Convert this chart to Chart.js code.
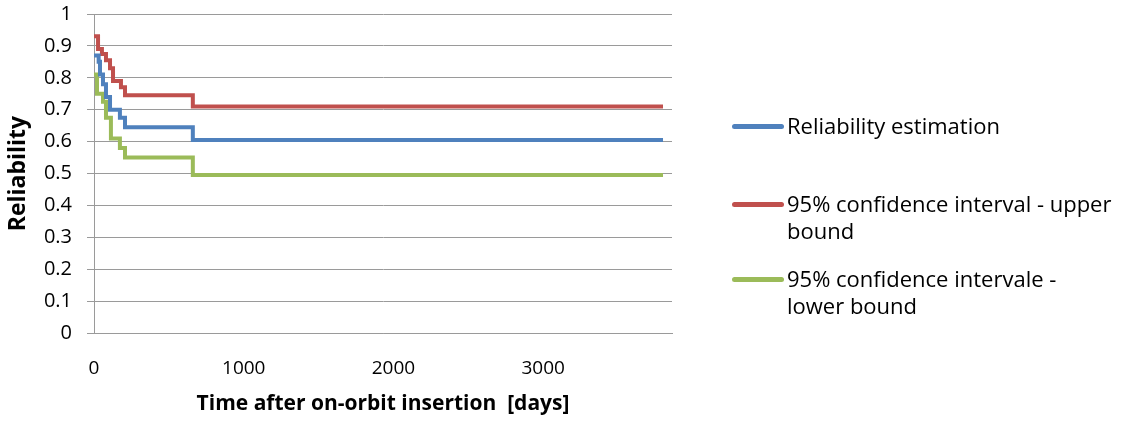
<!DOCTYPE html>
<html>
<head>
<meta charset="utf-8">
<script src="https://cdn.jsdelivr.net/npm/chart.js@4/dist/chart.umd.min.js"></script>
<style>
  body { margin: 0; background: #fff; }
  #wrap { position: relative; width: 1125px; height: 421px; }
  #legend { position: absolute; left: 732px; top: 0; font-family: "Open Sans", sans-serif; font-size: 22px; color: #000; }
  .item { position: absolute; left: 0; white-space: nowrap; line-height: 27px; }
  .swatch { position: absolute; left: 0; width: 52px; height: 5px; border-radius: 2.5px; }
  .txt { position: absolute; left: 55px; }
</style>
</head>
<body>
<div id="wrap">
  <canvas id="myChart" width="1125" height="421"></canvas>
  <div id="legend"></div>
</div>
<script>
// days after insertion where each estimate changes, and the value from that day on
let estDays = [0, 31, 40, 60, 80, 107, 173, 207, 660, 3800];
let estValues = [0.87, 0.85, 0.81, 0.78, 0.74, 0.70, 0.675, 0.645, 0.605, 0.605];

let upperDays = [0, 27, 53, 80, 107, 127, 180, 207, 660, 3800];
let upperValues = [0.93, 0.89, 0.875, 0.855, 0.83, 0.79, 0.77, 0.745, 0.71, 0.71];

let lowerDays = [0, 20, 60, 80, 113, 173, 207, 660, 3800];
let lowerValues = [0.81, 0.75, 0.725, 0.675, 0.61, 0.58, 0.55, 0.495, 0.495];

let seriesNames = [
  "Reliability estimation",
  "95% confidence interval - upper\nbound",
  "95% confidence intervale -\nlower bound"
];
let colors = ["#4F81BD", "#C0504D", "#9BBB59"];
let xTicks = [0, 1000, 2000, 3000];

function toPoints(days, values) {
  return days.map((d, i) => ({ x: d, y: values[i] }));
}

let font = "'Open Sans', sans-serif";
let grey = "#9a9a9a";

let chart = new Chart(document.getElementById("myChart").getContext("2d"), {
  type: "line",
  data: {
    datasets: [
      { label: seriesNames[0], data: toPoints(estDays, estValues) },
      { label: seriesNames[1], data: toPoints(upperDays, upperValues) },
      { label: seriesNames[2], data: toPoints(lowerDays, lowerValues) }
    ].map((ds, i) => Object.assign(ds, {
      borderColor: colors[i],
      backgroundColor: colors[i],
      borderWidth: 4,
      pointRadius: 0,
      stepped: true,
      fill: false
    }))
  },
  options: {
    responsive: false,
    animation: false,
    layout: { padding: { left: 0, top: 0, right: 453, bottom: 0 } },
    plugins: { legend: { display: false }, tooltip: { enabled: false } },
    scales: {
      x: {
        type: "linear",
        min: 0,
        max: 3860,
        grid: { display: false, drawTicks: false },
        border: { display: true, color: grey, width: 1 },
        afterBuildTicks: s => { s.ticks = xTicks.map(v => ({ value: v })); },
        afterFit: s => { s.height = 421 - 333; },
        ticks: {
          font: { family: font, size: 19 }, color: "#000", padding: 24, maxRotation: 0,
          callback: v => String(v)
        },
        title: {
          display: true,
          text: "Time after on-orbit insertion  [days]",
          font: { family: font, size: 21, weight: "bold" },
          color: "#000",
          padding: { top: 0, bottom: 4 }
        }
      },
      y: {
        min: 0,
        max: 1,
        grid: { color: grey, lineWidth: 1, tickLength: 7 },
        border: { display: true, color: grey, width: 1 },
        afterFit: s => { s.width = 94; s.paddingTop = 14; s.paddingBottom = 0; },
        ticks: {
          stepSize: 0.1, font: { family: font, size: 20 }, color: "#000", padding: 15,
          callback: v => String(+v.toFixed(1))
        },
        title: {
          display: true,
          text: "Reliability",
          font: { family: font, size: 23, weight: "bold" },
          color: "#000",
          padding: { top: 5, bottom: 0 }
        }
      }
    }
  }
});

// legend on the right, with wrapped labels like the original
let legendTops = [112, 190, 265];
let legend = document.getElementById("legend");
seriesNames.forEach((name, i) => {
  let item = document.createElement("div");
  item.className = "item";
  item.style.top = legendTops[i] + "px";
  let sw = document.createElement("div");
  sw.className = "swatch";
  sw.style.background = colors[i];
  sw.style.top = "12px";
  let t = document.createElement("div");
  t.className = "txt";
  t.innerHTML = name.split("\n").join("<br>");
  item.appendChild(sw);
  item.appendChild(t);
  legend.appendChild(item);
});
</script>
</body>
</html>
